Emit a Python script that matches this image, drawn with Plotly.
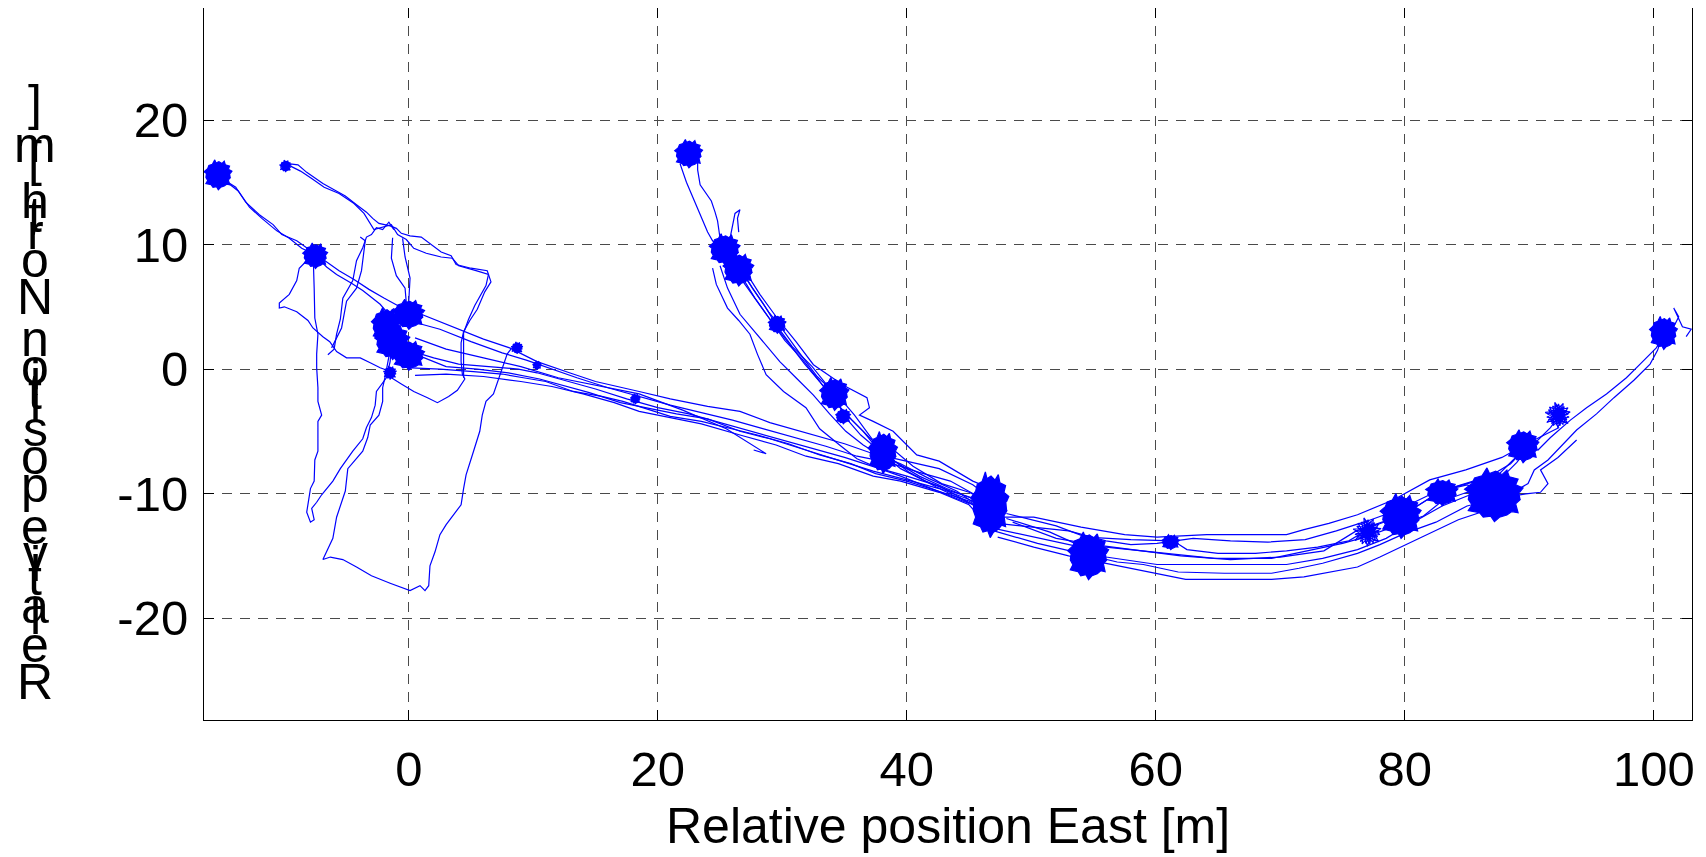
import plotly.graph_objects as go

# walking passes (East, North) in metres
tracks = [
    [(-15.3, 15.8), (-14.6, 15.0), (-13.7, 14.3), (-12.8, 13.0), (-11.8, 12.1), (-10.6, 11.1), (-9.6, 10.5),
     (-8.6, 9.7), (-7.6, 9.2), (-6.6, 8.2), (-5.8, 7.6), (-4.6, 6.9), (-3.7, 6.3), (-2.3, 5.2), (-1.6, 4.4)],
    [(-15.0, 15.3), (-13.9, 14.6), (-13.1, 13.4), (-12.0, 12.4), (-10.9, 11.6), (-10.2, 10.8), (-9.0, 10.3),
     (-7.9, 9.5), (-6.8, 8.7), (-5.6, 7.9), (-4.4, 7.2), (-3.2, 6.4), (-2.0, 5.7), (-0.6, 4.9), (0.2, 4.5)],
    [(-9.7, 16.5), (-8.9, 16.4), (-8.2, 15.8), (-7.6, 15.4), (-6.9, 14.9), (-6.0, 14.4), (-5.1, 13.9),
     (-4.2, 13.2), (-3.4, 12.6), (-2.9, 12.1), (-2.4, 11.7), (-1.5, 11.5), (-1.0, 11.3), (-0.6, 10.9),
     (0.1, 10.7), (1.0, 10.6), (1.8, 10.0), (2.6, 9.4), (3.4, 9.1), (3.8, 8.4), (5.0, 8.1), (6.3, 7.9),
     (6.6, 7.0), (6.1, 6.2), (5.5, 4.8), (4.9, 3.9), (4.4, 3.0), (4.2, 2.1), (4.2, 0.6), (4.3, -0.4),
     (4.5, -0.8), (3.9, -1.7), (3.2, -2.2), (2.3, -2.7), (1.5, -2.3), (0.4, -1.8), (-0.6, -1.2), (-1.4, -0.7)],
    [(-9.5, 16.3), (-8.7, 15.9), (-7.8, 15.3), (-6.8, 14.6), (-5.6, 14.1), (-4.4, 13.3), (-3.6, 12.5),
     (-3.2, 11.9), (-2.8, 11.2), (-1.4, 11.6), (-0.9, 10.8), (-0.2, 10.4), (0.4, 9.7), (1.4, 9.3),
     (2.6, 9.0), (3.5, 8.9), (4.0, 8.3), (5.4, 7.9), (6.4, 7.6), (6.2, 6.7), (5.8, 6.0), (5.3, 5.1),
     (4.8, 4.0), (4.4, 2.9), (4.4, 1.0), (4.4, -0.7)],
    [(-7.6, 9.0), (-7.65, 8.1), (-7.6, 6.5), (-7.55, 4.1), (-7.3, 2.8), (-7.4, 1.2), (-7.4, 0.1),
     (-7.3, -1.5), (-7.3, -2.6), (-7.0, -3.7), (-7.3, -4.2), (-7.3, -6.6), (-7.55, -7.3), (-7.6, -9.0),
     (-7.9, -9.6), (-8.2, -11.5), (-7.9, -12.3), (-7.6, -12.1), (-7.8, -11.2), (-7.4, -10.7), (-7.0, -10.1),
     (-6.1, -9.0), (-5.5, -8.0), (-4.5, -6.6), (-3.7, -5.6), (-3.4, -4.7), (-3.0, -3.9), (-2.7, -2.9),
     (-2.6, -1.8), (-1.8, -0.7), (-1.5, 0.6), (-1.3, 2.8)],
    [(-1.2, 4.9), (-1.4, 3.0), (-1.6, 1.0), (-1.9, -0.6), (-2.1, -1.5), (-2.1, -2.6), (-2.4, -3.7),
     (-3.1, -4.5), (-3.3, -5.5), (-3.7, -6.6), (-4.9, -8.0), (-5.1, -9.8), (-5.5, -10.9), (-5.8, -11.9),
     (-6.1, -13.6), (-6.5, -14.5), (-6.9, -15.3), (-6.3, -15.1), (-5.3, -15.3), (-4.2, -15.9), (-3.0, -16.6),
     (-1.5, -17.2), (0.1, -17.8), (0.9, -17.4), (1.3, -17.8), (1.6, -17.4), (1.7, -15.8), (2.1, -14.7),
     (2.5, -13.3), (3.0, -12.5), (3.6, -11.7), (4.2, -10.9), (4.4, -9.6), (4.6, -8.5), (5.2, -6.6),
     (5.7, -5.0), (5.9, -3.7), (6.2, -2.6), (6.8, -2.0), (7.6, 0.4), (7.9, 1.2), (8.2, 1.6)],
    [(-7.55, 9.2), (-8.2, 8.7), (-8.8, 8.1), (-9.0, 7.1), (-9.6, 6.0), (-10.4, 5.3), (-10.4, 4.9),
     (-10.0, 5.0), (-9.0, 4.6), (-8.1, 3.9), (-7.7, 3.3), (-6.9, 2.6), (-6.35, 2.2), (-5.8, 1.4),
     (-5.0, 0.9), (-3.9, 0.9), (-3.1, 0.5), (-2.3, 0.1), (-1.2, -0.3)],
    [(-6.5, 1.15), (-6.0, 1.6), (-5.8, 2.8), (-5.5, 4.0), (-5.3, 5.7), (-4.5, 7.1), (-4.2, 8.7),
     (-3.7, 9.75), (-3.4, 10.6), (-3.0, 10.8), (-2.6, 11.35), (-2.1, 11.2), (-1.6, 11.8), (-1.2, 11.2)],
    [(-6.2, 1.7), (-5.4, 3.3), (-5.0, 5.45), (-4.2, 6.5), (-3.8, 7.9), (-3.5, 10.3), (-3.9, 10.6)],
    [(-1.3, 10.55), (-1.4, 8.9), (-1.0, 7.5), (-0.3, 6.5), (-0.2, 5.3)],
    [(-0.5, 10.5), (-0.3, 9.0), (0.1, 7.3), (0.0, 5.5)],
    # long band from the start area down to the bend
    [(0.5, 4.6), (2.0, 4.0), (4.4, 3.0), (6.0, 2.4), (8.1, 1.7), (10.3, 0.6), (12.9, -0.3), (15.0, -1.0),
     (18.5, -1.8), (21.0, -2.4), (24.0, -3.0), (26.6, -3.4), (29.0, -4.3), (31.9, -5.1), (35.0, -6.0),
     (37.3, -6.8), (40.0, -7.4), (42.6, -8.0), (45.3, -9.3), (46.5, -10.2)],
    [(0.3, 3.8), (2.5, 3.2), (5.0, 2.2), (7.5, 1.3), (9.5, 0.7), (11.5, 0.0), (13.5, -0.7), (16.0, -1.5),
     (18.5, -2.2), (21.0, -2.9), (23.5, -3.5), (26.0, -4.1), (28.5, -4.8), (31.0, -5.5), (33.5, -6.2),
     (36.0, -7.0), (38.5, -7.5), (41.0, -8.3), (43.5, -9.0), (46.2, -10.5)],
    [(0.0, 1.5), (2.0, 0.9), (4.0, 0.4), (6.5, 0.2), (8.8, 0.0), (10.3, -0.3), (12.5, -0.9), (15.0, -1.6),
     (17.5, -2.4), (20.0, -3.1), (22.5, -3.6), (25.0, -4.3), (27.5, -5.0), (30.0, -5.7), (32.5, -6.4),
     (35.0, -7.1), (37.5, -7.9), (40.0, -8.6), (42.6, -9.4), (45.5, -11.0)],
    [(0.2, 0.1), (2.5, 0.0), (5.2, -0.2), (7.5, -0.4), (9.2, -0.7), (11.0, -1.0), (13.2, -1.8), (15.5, -2.2),
     (17.2, -2.6), (19.5, -3.3), (21.0, -3.8), (23.5, -4.2), (26.0, -4.8), (28.0, -5.3), (30.5, -6.0),
     (33.0, -6.9), (35.5, -7.6), (37.5, -8.4), (40.0, -9.0), (42.5, -9.8), (45.0, -10.6), (46.8, -11.8)],
    [(1.0, 1.0), (3.0, 0.2), (5.5, 0.0), (8.0, -0.3), (10.5, -0.8), (12.0, -1.2), (14.5, -1.9), (17.0, -2.7),
     (19.0, -3.1), (21.5, -3.6), (24.0, -4.0), (26.6, -5.0), (29.0, -5.6), (31.9, -6.5), (34.5, -7.3),
     (37.3, -8.2), (40.0, -8.9), (42.6, -9.6), (45.3, -10.9), (47.0, -12.2)],
    [(0.5, -0.5), (3.0, -0.4), (6.0, -0.6), (9.0, -1.0), (11.5, -1.4), (14.0, -2.0), (16.5, -2.7),
     (18.5, -3.4), (21.0, -3.9), (23.5, -4.4), (26.6, -5.3), (29.5, -6.1), (31.9, -7.0), (34.5, -7.6),
     (37.3, -8.6), (39.5, -9.0), (42.6, -9.9), (45.0, -10.9), (46.5, -12.6)],
    [(0.5, 2.5), (3.0, 1.6), (6.0, 0.9), (9.0, 0.2), (12.0, -0.7), (15.0, -1.3), (18.5, -2.0), (22.0, -3.3),
     (25.5, -4.8), (28.7, -6.8), (27.7, -6.5)],
    # second leg, from the top waypoint down the slope
    [(22.5, 17.0), (21.8, 16.45), (22.3, 15.0), (22.8, 13.8), (23.2, 12.8), (23.6, 11.9), (24.0, 11.0),
     (24.4, 10.3), (25.2, 9.6)],
    [(23.2, 16.9), (23.2, 16.0), (23.4, 14.8), (24.3, 13.5), (24.6, 12.6), (24.8, 11.9), (25.0, 10.5),
     (25.6, 9.9)],
    [(25.8, 10.5), (26.2, 12.5), (26.6, 12.8), (26.4, 12.1), (26.5, 11.0)],
    [(25.0, 10.0), (25.8, 8.6), (27.0, 6.8), (28.3, 5.0), (29.3, 3.6), (30.5, 2.1), (31.8, 0.4), (33.0, -1.0),
     (33.9, -2.2), (35.0, -3.5), (36.5, -5.0), (37.8, -6.6), (39.5, -8.0), (41.5, -9.0), (43.5, -9.8),
     (46.4, -10.7)],
    [(25.6, 9.3), (26.6, 7.7), (27.8, 5.7), (29.0, 4.0), (30.2, 2.3), (31.6, 0.8), (33.2, -1.3), (34.4, -2.8),
     (35.6, -4.1), (37.0, -5.5), (38.4, -6.9), (40.2, -8.3), (42.4, -9.5), (44.8, -10.4), (46.9, -11.3)],
    [(26.3, 8.5), (27.2, 7.1), (28.5, 5.2), (29.6, 3.4), (30.8, 1.8), (32.4, 0.2), (34.0, -1.8), (35.0, -3.8),
     (36.3, -5.3), (37.6, -6.4), (39.0, -7.4), (41.0, -8.6), (43.2, -9.6), (45.5, -10.5), (47.2, -11.8)],
    [(26.7, 8.0), (27.6, 6.5), (28.9, 4.6), (30.0, 3.2), (31.3, 1.4), (32.8, -0.6), (34.6, -2.3),
     (35.8, -3.7), (37.2, -5.6), (38.6, -6.2), (40.5, -7.8), (42.8, -9.2), (45.0, -9.9), (46.0, -10.4)],
    [(24.4, 8.1), (24.7, 6.8), (25.6, 4.9), (26.5, 3.9), (27.4, 2.8), (28.0, 1.2), (28.7, -0.45),
     (30.1, -1.8), (31.9, -3.1), (33.0, -4.8), (34.6, -6.1), (36.0, -7.2), (37.8, -8.0), (39.5, -8.6),
     (42.0, -9.6), (45.0, -10.8)],
    [(25.0, 8.3), (25.6, 6.5), (26.6, 4.4), (28.2, 2.5), (29.8, 0.6), (31.2, -0.8), (32.5, -2.1),
     (33.8, -3.6), (35.1, -5.0), (36.5, -6.1), (37.8, -6.9), (39.5, -7.6), (41.8, -8.8), (44.0, -9.8),
     (46.2, -11.3)],
    [(26.85, 8.13), (28.2, 6.0), (29.8, 3.8), (31.1, 2.2), (32.5, 0.35), (34.9, -1.3), (36.8, -2.3),
     (37.0, -3.1), (36.2, -3.7), (37.3, -4.2), (38.9, -5.0), (40.8, -6.9), (42.6, -7.4), (45.3, -9.0),
     (47.0, -9.7)],
    # the bend and the climb to the east end
    [(47.3, -11.9), (50.2, -11.9), (54.0, -12.7), (57.5, -13.3), (60.1, -13.5), (64.1, -13.3), (67.6, -13.3),
     (70.5, -13.3), (71.9, -12.9), (73.9, -12.4), (76.2, -11.7), (79.1, -10.5), (82.0, -8.9), (84.9, -8.1),
     (87.8, -7.1), (89.8, -6.0), (92.4, -4.7)],
    [(47.3, -12.4), (50.2, -12.7), (53.0, -13.0), (56.0, -13.8), (58.0, -14.1), (60.1, -14.0), (63.0, -13.6),
     (66.0, -13.8), (69.0, -13.9), (72.0, -13.7), (74.5, -13.0), (77.0, -12.2), (79.5, -11.3), (82.0, -10.1),
     (84.3, -9.4), (86.5, -8.8), (88.5, -7.6), (89.7, -6.3)],
    [(47.0, -12.8), (50.2, -13.5), (53.5, -14.2), (56.0, -14.3), (60.1, -14.7), (64.7, -15.2), (69.3, -15.2),
     (72.5, -14.5), (75.0, -14.0), (76.8, -13.5), (79.0, -12.7), (81.5, -11.8), (83.0, -10.6), (85.0, -9.9),
     (87.3, -9.8)],
    [(47.3, -13.5), (50.2, -14.3), (53.0, -15.0), (56.0, -15.6), (60.1, -16.4), (62.4, -16.9), (66.0, -16.9),
     (69.3, -16.9), (71.9, -16.7), (74.0, -16.3), (76.2, -15.9), (78.0, -15.1), (79.7, -14.3), (82.0, -13.2),
     (84.3, -12.1), (86.1, -11.5), (87.5, -10.4)],
    [(47.0, -13.0), (50.5, -14.0), (54.4, -14.9), (56.9, -15.5), (59.0, -15.7), (61.8, -16.3), (65.5, -16.4),
     (69.3, -16.4), (71.5, -16.0), (73.4, -15.6), (76.2, -14.8), (78.0, -14.1), (80.0, -13.2), (82.5, -12.3),
     (85.0, -11.0), (87.0, -10.5)],
    [(48.0, -12.0), (51.5, -13.1), (54.4, -14.4), (56.0, -15.1), (60.1, -15.7), (64.7, -15.7), (70.5, -15.7),
     (73.4, -15.2), (76.2, -14.5), (78.5, -13.6), (80.5, -12.4), (83.0, -11.0), (85.5, -10.0), (87.3, -9.2),
     (89.0, -7.5), (89.8, -6.5)],
    [(48.0, -11.6), (52.0, -12.6), (54.4, -13.5), (58.0, -13.7), (61.4, -13.8), (62.5, -14.5), (65.0, -14.8),
     (68.0, -14.8), (70.5, -14.6), (73.0, -14.3), (75.5, -13.8), (77.5, -12.6), (79.9, -11.7), (82.9, -9.8),
     (85.5, -9.0), (87.5, -8.5), (89.7, -6.3)],
    [(48.5, -12.3), (52.0, -13.6), (55.0, -14.1), (58.0, -14.5), (62.0, -15.0), (66.0, -15.3), (70.0, -15.1),
     (73.5, -14.6), (76.1, -13.0), (79.9, -11.7), (82.9, -9.8), (85.0, -9.3), (87.3, -10.1)],
    [(100.9, 2.8), (100.2, 1.7), (98.9, 0.4), (97.8, -0.7), (96.2, -2.0), (94.6, -3.1), (93.3, -4.1),
     (91.7, -5.5), (90.7, -6.5), (89.7, -6.3)],
    [(100.6, 2.4), (100.3, 1.5), (99.7, 0.4), (98.4, -0.9), (96.8, -2.3), (95.4, -3.6), (93.8, -4.9),
     (92.5, -6.3), (91.5, -7.3), (90.4, -8.1), (89.9, -9.2), (88.5, -10.0)],
    [(93.8, -5.7), (92.3, -7.1), (90.9, -8.1), (91.5, -9.2), (90.9, -9.9), (89.9, -10.0), (88.0, -10.3)],
    [(89.7, -6.3), (90.7, -5.7), (91.7, -4.7), (92.5, -3.6)],
    [(101.5, 3.2), (102.0, 4.2), (101.6, 4.9), (102.3, 3.4), (103.0, 3.2), (102.6, 2.6)],
]

# places where the receiver stood still (centre, spread)
dense_x = [-15.3, -7.5, 0.0, -1.8, -1.3, 0.0, 22.5, 25.4, 26.5, 29.6, 34.2, 34.9, 38.1, 46.7,
           54.6, 61.2, 79.7, 83.0, 87.2, 89.5, 100.8]
dense_y = [15.6, 9.1, 4.4, 3.5, 2.2, 1.1, 17.3, 9.6, 8.0, 3.6, -2.0, -3.8, -6.7, -10.9,
           -15.0, -13.9, -11.8, -9.9, -10.1, -6.2, 2.9]
dense_rx = [0.95, 0.85, 1.1, 1.0, 1.2, 1.1, 0.95, 1.05, 1.05, 0.6, 1.0, 0.5, 1.0, 1.3,
            1.4, 0.6, 1.4, 1.1, 2.0, 1.1, 0.95]
dense_ry = [1.0, 0.85, 1.0, 1.2, 1.2, 1.0, 0.95, 1.05, 1.1, 0.6, 1.1, 0.5, 1.4, 2.2,
            1.6, 0.5, 1.5, 0.9, 1.8, 1.1, 1.1]

sparse_x = [77.0, 92.3, 8.7, 10.3, 18.2, -1.5, -9.9]
sparse_y = [-13.1, -3.7, 1.7, 0.3, -2.4, -0.3, 16.3]
sparse_r = [0.95, 0.85, 0.4, 0.3, 0.35, 0.45, 0.4]

# jagged outline of one noise cloud (unit size)
blob_dx = [1.0, 1.15, 0.85, 0.95, 0.6, 0.5, 0.3, 0.05, -0.2, -0.3, -0.5, -0.8, -0.9, -1.2,
           -1.0, -1.05, -0.9, -1.05, -0.6, -0.45, -0.15, 0.0, 0.2, 0.5, 0.7, 0.95, 0.85, 1.05]
blob_dy = [0.1, 0.3, 0.45, 0.7, 0.8, 1.1, 0.9, 1.05, 0.95, 1.2, 0.85, 0.75, 0.5, 0.25,
           0.1, -0.2, -0.45, -0.7, -0.8, -1.0, -0.95, -1.2, -1.0, -0.9, -0.75, -0.8, -0.4, -0.2]

x_ticks = [0, 20, 40, 60, 80, 100]
y_ticks = [-20, -10, 0, 10, 20]
x_title = "Relative position East [m]"
y_title = "Relative position North [m]"

BLUE = "#0000ff"
FONT = "Liberation Sans, Arial, sans-serif"

# the page body has an 8px margin, so the figure is sized to fit the window
PAGE = 8
W, H = 1706 - PAGE, 857 - PAGE
# plot box on the page, in pixels
L, R, T, B = 204, 1692, 8, 720

line_x, line_y = [], []
for tr in tracks:
    for px, py in tr:
        line_x.append(px)
        line_y.append(py)
    line_x.append(None)
    line_y.append(None)

blob_x, blob_y = [], []
for cx, cy, rx, ry in zip(dense_x, dense_y, dense_rx, dense_ry):
    for dx, dy in zip(blob_dx, blob_dy):
        blob_x.append(cx + dx * rx)
        blob_y.append(cy + dy * ry)
    blob_x.append(None)
    blob_y.append(None)

# sparse clouds: a small core plus a star-like scribble through the outline points
n = len(blob_dx)
scr_x, scr_y = [], []
for cx, cy, r in zip(sparse_x, sparse_y, sparse_r):
    for dx, dy in zip(blob_dx, blob_dy):
        blob_x.append(cx + dx * r * 0.5)
        blob_y.append(cy + dy * r * 0.5)
    blob_x.append(None)
    blob_y.append(None)
    for k in range(n + 1):
        i = (k * 11) % n
        scr_x.append(cx + blob_dx[i] * r)
        scr_y.append(cy + blob_dy[i] * r)
    scr_x.append(None)
    scr_y.append(None)

fig = go.Figure()
fig.add_trace(go.Scatter(x=line_x, y=line_y, mode="lines",
                         line=dict(color=BLUE, width=1.2), hoverinfo="skip"))
fig.add_trace(go.Scatter(x=blob_x, y=blob_y, mode="lines", fill="toself", fillcolor=BLUE,
                         line=dict(color=BLUE, width=1.2), hoverinfo="skip"))
fig.add_trace(go.Scatter(x=scr_x, y=scr_y, mode="lines",
                         line=dict(color=BLUE, width=1.2), hoverinfo="skip"))

x0 = -16.45
x1 = x0 + (R - L) / 12.45
y1 = 29.0
y0 = y1 - (B - T) / 12.45

axis_style = dict(showline=True, linecolor="black", linewidth=1, mirror="ticks",
                  ticks="inside", ticklen=10, tickcolor="black", tickwidth=1,
                  showgrid=True, gridcolor="#4a4a4a", gridwidth=1, griddash="10px,8px",
                  zeroline=False, automargin=False,
                  tickfont=dict(family=FONT, size=49, color="black"))

fig.update_xaxes(range=[x0, x1], tickvals=x_ticks, ticktext=[str(v) for v in x_ticks],
                 ticklabelstandoff=6, **axis_style)
fig.update_yaxes(range=[y0, y1], tickvals=y_ticks, ticktext=[str(v) for v in y_ticks],
                 ticklabelstandoff=5, **axis_style)

# x title
annotations = [dict(text=x_title, xref="paper", yref="paper", x=(948 - L) / (R - L),
                    y=(B - 855) / (B - T), xanchor="center", yanchor="bottom", showarrow=False,
                    borderpad=0, font=dict(family=FONT, size=50, color="black"))]

# y title: upright glyphs stacked bottom to top by their advance widths
adv = {"R": 722, "e": 556, "l": 222, "a": 556, "t": 278, "i": 222, "v": 500, " ": 278,
       "p": 556, "o": 556, "s": 500, "n": 556, "N": 722, "r": 333, "h": 556, "[": 278,
       "m": 833, "]": 278}
pos = 0
for ch in y_title:
    base = 700 - 0.0506 * pos
    pos += adv[ch]
    if ch == " ":
        continue
    annotations.append(dict(text=ch, xref="paper", yref="paper", x=(35 - L) / (R - L),
                            y=(B - (base + 11)) / (B - T), xanchor="center", yanchor="bottom",
                            showarrow=False, borderpad=0,
                            font=dict(family=FONT, size=50, color="black")))

fig.update_layout(width=W, height=H, autosize=False, showlegend=False,
                  plot_bgcolor="white", paper_bgcolor="white",
                  margin=dict(l=L - PAGE, r=PAGE + W - R, t=T - PAGE, b=PAGE + H - B),
                  annotations=annotations)

fig.write_html("out.html")
